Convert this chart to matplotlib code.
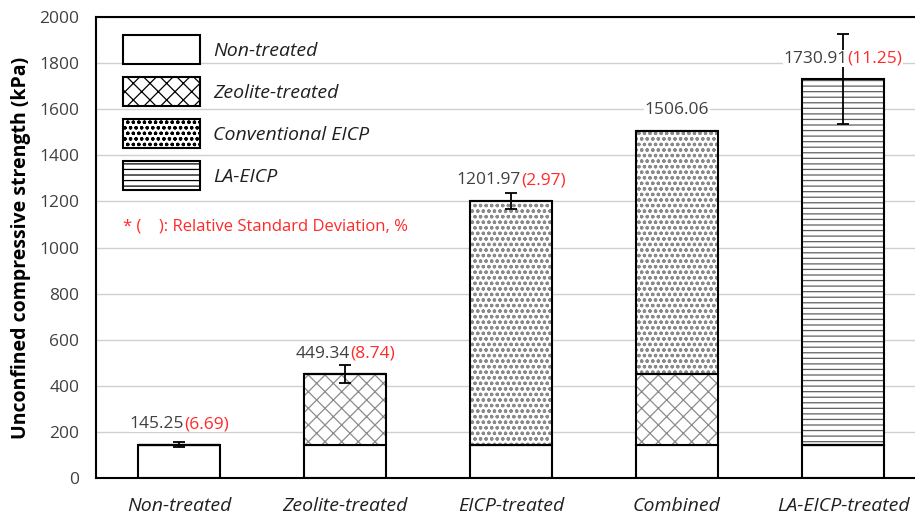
import matplotlib.pyplot as plt
from matplotlib.patches import Patch

plt.rcParams['font.family'] = ['Open Sans', 'DejaVu Sans']
plt.rcParams['hatch.linewidth'] = 0.9

# UCS results (kPa) and relative standard deviation (%)
groups = ['Non-treated', 'Zeolite-treated', 'EICP-treated', 'Combined', 'LA-EICP-treated']
ucs = [145.25, 449.34, 1201.97, 1506.06, 1730.91]
rsd = [6.69, 8.74, 2.97, None, 11.25]

# stacked contributions: base, zeolite, conventional EICP, LA-EICP
base = [145.25, 145.25, 145.25, 145.25, 145.25]
zeolite = [0, 449.34 - 145.25, 0, 449.34 - 145.25, 0]
eicp = [0, 0, 1201.97 - 145.25, 1506.06 - 449.34, 0]
la_eicp = [0, 0, 0, 0, 1730.91 - 145.25]

legend_labels = ['Non-treated', 'Zeolite-treated', 'Conventional EICP', 'LA-EICP']
hatches = ['', 'xx', 'ooo', '---']
hatch_colors = ['black', '#8c8c8c', '#8a8a8a', '#606060']

fig = plt.figure(figsize=(9.15, 5.17), dpi=100)
ax = fig.add_axes([96 / 915, 39 / 517, 830 / 915, 461 / 517])

x = list(range(len(groups)))
w = 0.49

ax.bar(x, base, w, color='white', edgecolor='black', linewidth=1.5, zorder=2)

bottom = base[:]
for seg, hatch, hc in zip([zeolite, eicp, la_eicp], hatches[1:], hatch_colors[1:]):
    ax.bar(x, seg, w, bottom=bottom, color='white', edgecolor=hc,
           hatch=hatch, linewidth=0, zorder=2)
    ax.bar(x, seg, w, bottom=bottom, fill=False, edgecolor='black',
           linewidth=1.5, zorder=3)
    bottom = [b + s for b, s in zip(bottom, seg)]

# error bars from the relative standard deviation
for i, (v, r) in enumerate(zip(ucs, rsd)):
    if r is None:
        continue
    ax.errorbar(i, v, yerr=v * r / 100, fmt='none', ecolor='black',
                elinewidth=1.3, capsize=4, capthick=1.3, zorder=4)

# value labels: mean in dark gray, RSD in red right after it
fig.canvas.draw()
renderer = fig.canvas.get_renderer()
fs = 12.5
for i, (v, r) in enumerate(zip(ucs, rsd)):
    txt = f'{v:.2f}'
    if r is None:
        ax.annotate(txt, (i, v), xytext=(0, 9), textcoords='offset points',
                    ha='center', va='bottom', fontsize=fs, color='#404040', zorder=6,
                    bbox=dict(fc='white', ec='none', pad=0.3))
        continue
    red = f'({r:.2f})'
    tb = ax.text(0, 0, txt, fontsize=fs)
    tr = ax.text(0, 0, red, fontsize=fs)
    wb = tb.get_window_extent(renderer).width * 72 / fig.dpi
    wr = tr.get_window_extent(renderer).width * 72 / fig.dpi
    tb.remove()
    tr.remove()
    dx = (wb - wr) / 2
    ax.annotate(txt, (i, v), xytext=(dx, 9), textcoords='offset points',
                ha='right', va='bottom', fontsize=fs, color='#404040', zorder=6,
                bbox=dict(fc='white', ec='none', pad=0.3))
    ax.annotate(red, (i, v), xytext=(dx, 9), textcoords='offset points',
                ha='left', va='bottom', fontsize=fs, color='#ff2a2a', zorder=5,
                bbox=dict(fc='white', ec='none', pad=0.3))

ax.text(0.032, 0.545, '* (    ): Relative Standard Deviation, %', transform=ax.transAxes,
        fontsize=12, color='#ff2a2a', va='center', ha='left', zorder=5,
        bbox=dict(fc='white', ec='none', pad=1))

ax.set_xlim(-0.5, 4.5)
ax.set_ylim(0, 2000)
ax.set_yticks(range(0, 2001, 200))
ax.set_xticks(x)
ax.set_xticklabels(groups, fontsize=14, style='italic')
ax.tick_params(axis='y', labelsize=12.5, length=0, pad=12, labelcolor='#404040')
ax.tick_params(axis='x', length=0, pad=14, labelcolor='#202020')
ax.set_ylabel('Unconfined compressive strength (kPa)', fontsize=14,
              fontweight='bold', labelpad=6)
ax.grid(axis='y', color='#d0d0d0', linewidth=1, zorder=0)
ax.set_axisbelow(True)
for s in ax.spines.values():
    s.set_linewidth(1.5)

handles = [Patch(facecolor='white', edgecolor='black', hatch=h, linewidth=1.5)
           for h in hatches]
leg = ax.legend(handles, legend_labels, loc='upper left', bbox_to_anchor=(0.011, 0.998),
                frameon=False, prop={'size': 14, 'style': 'italic'},
                handlelength=4.0, handleheight=1.92, labelspacing=0.66,
                handletextpad=0.67)
for t in leg.get_texts():
    t.set_color('#202020')

fig.savefig('out.png', dpi=100)
